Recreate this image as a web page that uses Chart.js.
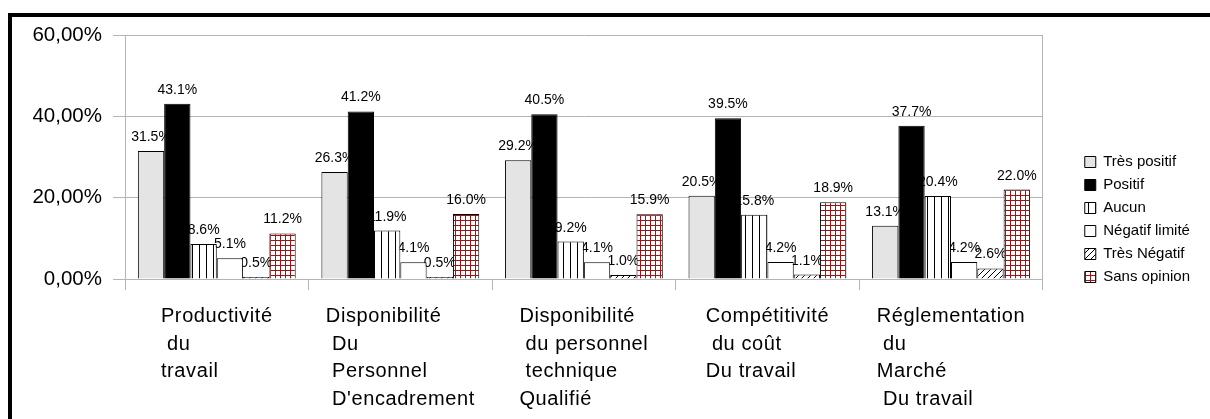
<!DOCTYPE html>
<html>
<head>
<meta charset="utf-8">
<script src="https://cdn.jsdelivr.net/npm/chart.js@4.4.1/dist/chart.umd.min.js"></script>
<style>
  body { margin: 0; background: #fff; }
  #wrap { position: relative; width: 1210px; height: 419px; overflow: hidden; }
  #frame { position: absolute; left: 8px; top: 13px; width: 1400px; height: 600px;
           border: 4px solid #000; box-sizing: border-box; pointer-events: none; }
  canvas { position: absolute; left: 0; top: 0; }
</style>
</head>
<body>
<div id="wrap">
  <canvas id="chart" width="1210" height="419"></canvas>
  <div id="frame"></div>
</div>
<script>
const categories = [
  ["Productivité", " du", "travail"],
  ["Disponibilité", " Du", " Personnel", " D'encadrement"],
  ["Disponibilité", " du personnel", " technique", "Qualifié"],
  ["Compétitivité", " du coût", "Du travail"],
  ["Réglementation", " du", "Marché", " Du travail"],
];
const seriesNames = ["Très positif", "Positif", "Aucun", "Négatif limité", "Très Négatif", "Sans opinion"];
const tresPositif = [31.5, 26.3, 29.2, 20.5, 13.1];
const positif = [43.1, 41.2, 40.5, 39.5, 37.7];
const aucun = [8.6, 11.9, 9.2, 15.8, 20.4];
const negatifLimite = [5.1, 4.1, 4.1, 4.2, 4.2];
const tresNegatif = [0.5, 0.5, 1.0, 1.1, 2.6];
const sansOpinion = [11.2, 16.0, 15.9, 18.9, 22.0];
const yTicks = [0, 20, 40, 60];

const FONT = '"Liberation Sans", Arial, sans-serif';
const gridColor = "#b4b4b4";

// small tiles used as fills for the patterned series
function makePattern(w, h, paint) {
  const c = document.createElement("canvas");
  c.width = w;
  c.height = h;
  const g = c.getContext("2d");
  g.fillStyle = "#fff";
  g.fillRect(0, 0, w, h);
  paint(g, w, h);
  return g.createPattern(c, "repeat");
}

const stripes = makePattern(7, 7, (g, w, h) => {
  g.fillStyle = "#000";
  g.fillRect(3, 0, 1, h);
});

const hatch = makePattern(6, 6, (g, w, h) => {
  g.strokeStyle = "#000";
  g.lineWidth = 1;
  g.beginPath();
  g.moveTo(-1, h + 1);
  g.lineTo(w + 1, -1);
  g.moveTo(-1, 1);
  g.lineTo(1, -1);
  g.moveTo(w - 1, h + 1);
  g.lineTo(w + 1, h - 1);
  g.stroke();
});

const redGrid = makePattern(5, 5, (g, w, h) => {
  g.fillStyle = "#9c1414";
  g.fillRect(0, 0, w, 1);
  g.fillRect(0, 0, 1, h);
});

const seriesData = [tresPositif, positif, aucun, negatifLimite, tresNegatif, sansOpinion];
const seriesFills = ["#e4e4e4", "#000000", stripes, "#ffffff", hatch, redGrid];

// value labels go under the bars, so neighbouring bars hide the overlap
const valueLabels = {
  id: "valueLabels",
  beforeDatasetsDraw(chart) {
    const ctx = chart.ctx;
    ctx.save();
    ctx.font = "14px " + FONT;
    ctx.fillStyle = "#000";
    ctx.textAlign = "center";
    ctx.textBaseline = "alphabetic";
    chart.data.datasets.forEach((ds, di) => {
      chart.getDatasetMeta(di).data.forEach((bar, i) => {
        ctx.fillText(ds.data[i].toFixed(1) + "%", bar.x, bar.y - 10);
      });
    });
    ctx.restore();
  },
};

// multi-line category names, left aligned inside a centred block
const categoryLabels = {
  id: "categoryLabels",
  afterDraw(chart) {
    const ctx = chart.ctx;
    const xScale = chart.scales.x;
    ctx.save();
    ctx.font = "20px " + FONT;
    ctx.letterSpacing = "0.6px";
    ctx.fillStyle = "#000";
    ctx.textAlign = "left";
    ctx.textBaseline = "alphabetic";
    categories.forEach((lines, i) => {
      const w = Math.max(...lines.map((s) => ctx.measureText(s).width));
      const left = xScale.getPixelForValue(i) - w / 2;
      lines.forEach((s, k) => {
        ctx.fillText(s, left, chart.chartArea.bottom + 43 + k * 27.5);
      });
    });
    ctx.restore();
  },
};

new Chart(document.getElementById("chart"), {
  type: "bar",
  data: {
    labels: categories,
    datasets: seriesNames.map((name, i) => ({
      label: name,
      data: seriesData[i],
      backgroundColor: seriesFills[i],
      borderColor: "#000",
      borderWidth: 1,
      categoryPercentage: 0.86,
      barPercentage: 1,
    })),
  },
  options: {
    responsive: false,
    animation: false,
    layout: { padding: { left: 32, top: 35, right: 10, bottom: 15 } },
    plugins: {
      tooltip: { enabled: false },
      legend: {
        position: "right",
        labels: {
          boxWidth: 11,
          boxHeight: 11,
          padding: 8,
          color: "#000",
          font: { size: 15, family: FONT },
        },
      },
    },
    scales: {
      x: {
        grid: { offset: true, drawOnChartArea: false, color: gridColor, tickLength: 11 },
        border: { color: gridColor },
        ticks: { display: false },
        afterFit: (s) => { s.height = 125; },
      },
      y: {
        min: yTicks[0],
        max: yTicks[yTicks.length - 1],
        afterBuildTicks: (s) => { s.ticks = yTicks.map((v) => ({ value: v })); },
        ticks: {
          color: "#000",
          padding: 11,
          font: { size: 20.5, family: FONT },
          callback: (v) => v.toFixed(2).replace(".", ",") + "%",
        },
        grid: { color: gridColor, tickLength: 12 },
        border: { color: gridColor },
        afterFit: (s) => { s.width = 93; },
      },
      y2: {
        position: "right",
        min: 0,
        max: 60,
        grid: { display: false },
        ticks: { display: false },
        border: { color: gridColor },
        afterFit: (s) => { s.width = 34; },
      },
    },
  },
  plugins: [valueLabels, categoryLabels],
});
</script>
</body>
</html>
